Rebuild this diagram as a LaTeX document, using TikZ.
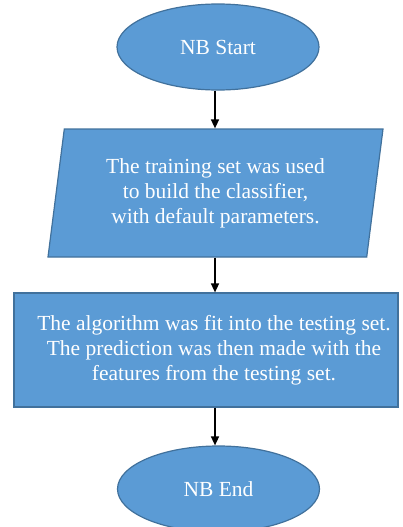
\documentclass[tikz,border=0pt]{standalone}
\usepackage{fontspec}
\setmainfont{Liberation Serif}
\usetikzlibrary{shapes.geometric,arrows.meta}
\definecolor{boxfill}{HTML}{5B9BD5}
\definecolor{boxline}{HTML}{41719C}
\begin{document}
\begin{tikzpicture}[x=1pt,y=-1pt,
  base/.style={fill=boxfill,draw=boxline,line width=1.2pt,text=white,
    font=\fontsize{21.5}{25}\selectfont,align=center,inner sep=0pt},
  term/.style={base,ellipse,minimum width=202,minimum height=86},
  iobox/.style={base,trapezium,trapezium left angle=76.8,trapezium right angle=103.2,
    trapezium stretches body,minimum width=335,minimum height=128},
  procbox/.style={base,rectangle,minimum width=384,minimum height=114},
  txt/.style={text=white,font=\fontsize{21.5}{25}\selectfont,align=center,inner sep=0pt},
  arr/.style={line width=1.5pt,-{Triangle[length=9pt,width=8pt]}}]
\useasboundingbox (0,0) rectangle (402,527);
\node[term] (start) at (218,47) {NB Start};
\node[iobox] (para) at (215.5,193) {The training set was used\\to build the classifier,\\with default parameters.};
\node[procbox] (proc) at (206,350) {};
\node[txt] (proctext) at (214,350) {The algorithm was fit into the testing set.\\The prediction was then made with the\\features from the testing set.};
\node[term] (end) at (218.5,489) {NB End};
\coordinate (ax) at (215,0);
\draw[arr] (ax |- start.south) -- (ax |- para.north);
\draw[arr] (ax |- para.south) -- (ax |- proc.north);
\draw[arr] (ax |- proc.south) -- (ax |- end.north);
\end{tikzpicture}
\end{document}
